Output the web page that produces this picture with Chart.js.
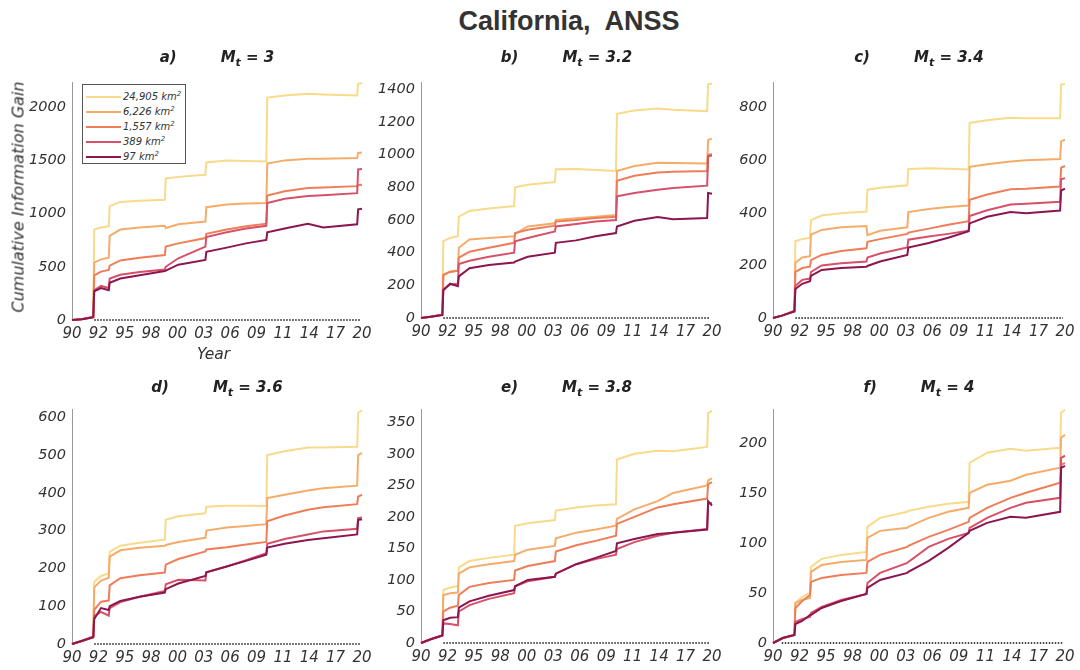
<!DOCTYPE html>
<html>
<head>
<meta charset="utf-8">
<script src="https://cdn.jsdelivr.net/npm/chart.js@4.4.1/dist/chart.umd.min.js"></script>
<style>
  body { margin: 0; background: #fff; }
  #wrap { position: relative; width: 1080px; height: 670px; overflow: hidden;
          font-family: "DejaVu Sans", Verdana, sans-serif; color: #333; }
  canvas { position: absolute; }
  .title { position: absolute; left: 369px; width: 400px; top: 6px; text-align: center;
           font: bold 27px "Liberation Sans", Arial, sans-serif; color: #333; }
  .ptitle { position: absolute; text-align: center; font-weight: bold; font-style: italic;
            font-size: 15px; line-height: 20px; white-space: pre; color: #222; }
  .ptitle sub { font-size: 11px; vertical-align: -4px; }
  .gap { display: inline-block; width: 44px; }
  .axlab { position: absolute; font-style: italic; color: #333; white-space: nowrap; }
  .legend { position: absolute; left: 82px; top: 84px; width: 102px; height: 76px;
            border: 1px solid #555; background: #fff; padding-top: 2px; }
  .legend div { height: 15px; line-height: 15px; font-size: 10px; font-style: italic; color: #333; }
  .legend span.ln { display: inline-block; width: 35px; height: 2px; margin: 0 2px 0 3px;
                    vertical-align: middle; }
  .legend sup { font-size: 7px; }
</style>
</head>
<body>
<div id="wrap"></div>
<script>
// ---- données ----
const AREAS = ['24,905', '6,226', '1,557', '389', '97'];
const LINE_COLORS = ['#F8DA8B', '#F5AC6B', '#EF7D58', '#D65068', '#8C1650'];

const YEARS = [1990, 1991, 1992.2, 1992.3, 1993, 1993.8, 1993.9, 1995, 1997, 1999.6, 1999.7, 2001,
               2003.8, 2003.9, 2006, 2008, 2010.1, 2010.2, 2012, 2014.4, 2016, 2019.5, 2019.6, 2020];

const XTICK_POS = [1990, 1992.73, 1995.45, 1998.18, 2000.91, 2003.64, 2006.36, 2009.09,
                   2011.82, 2014.55, 2017.27, 2020];
const XTICK_LABELS = ['90', '92', '95', '98', '00', '03', '06', '09', '11', '14', '17', '20'];

const PANEL_LETTERS = ['a)', 'b)', 'c)', 'd)', 'e)', 'f)'];
const MT_VALUES = ['3', '3.2', '3.4', '3.6', '3.8', '4'];
const Y_MAX = [2230, 1440, 895, 620, 370, 233];
const Y_STEP = [500, 200, 200, 100, 50, 50];
const BASE_START = [1992.3, 1992.3, 1992.3, 1992.3, 1992.3, 1990.9];
const BASE_END = 2019.8;

// rows: 24,905 / 6,226 / 1,557 / 389 / 97 km2
const GAIN_MT30 = [
  [0, 8, 28, 850, 870, 880, 1070, 1110, 1120, 1130, 1330, 1345, 1365, 1480, 1500, 1495, 1490, 2090, 2110, 2125, 2120, 2110, 2220, 2228],
  [0, 8, 28, 540, 570, 585, 790, 850, 870, 885, 865, 900, 925, 1060, 1085, 1095, 1100, 1470, 1500, 1515, 1515, 1522, 1570, 1575],
  [0, 8, 28, 420, 455, 470, 510, 560, 585, 610, 690, 720, 770, 810, 850, 880, 905, 1170, 1210, 1240, 1245, 1258, 1268, 1270],
  [0, 8, 28, 280, 320, 300, 390, 425, 450, 475, 500, 580, 690, 780, 825, 860, 885, 1100, 1140, 1165, 1172, 1192, 1415, 1420],
  [0, 8, 25, 270, 300, 280, 350, 390, 420, 460, 465, 520, 565, 640, 680, 720, 752, 825, 860, 905, 870, 900, 1040, 1045]
];
const GAIN_MT32 = [
  [0, 8, 20, 470, 490, 500, 620, 655, 670, 685, 800, 815, 832, 910, 912, 905, 900, 1250, 1270, 1282, 1275, 1265, 1430, 1435],
  [0, 8, 20, 265, 285, 290, 430, 480, 490, 500, 515, 560, 580, 600, 610, 620, 630, 900, 930, 950, 948, 945, 1090, 1098],
  [0, 8, 20, 262, 282, 288, 370, 405, 430, 460, 520, 540, 565, 590, 600, 612, 620, 840, 870, 890, 895, 900, 1000, 1002],
  [0, 8, 20, 175, 205, 210, 330, 350, 375, 400, 470, 490, 530, 560, 575, 590, 600, 745, 765, 785, 795, 810, 990, 995],
  [0, 8, 18, 170, 210, 195, 255, 305, 325, 340, 345, 375, 400, 460, 475, 500, 520, 560, 595, 618, 605, 612, 765, 760]
];
const GAIN_MT34 = [
  [0, 10, 28, 293, 300, 305, 372, 390, 398, 405, 488, 495, 505, 567, 570, 568, 565, 742, 752, 762, 760, 760, 888, 890],
  [0, 10, 28, 210, 230, 235, 317, 335, 345, 350, 315, 332, 345, 403, 415, 422, 428, 575, 585, 595, 600, 605, 672, 678],
  [0, 10, 28, 175, 190, 195, 220, 240, 255, 265, 290, 300, 320, 325, 340, 355, 368, 450, 470, 490, 492, 500, 572, 578],
  [0, 10, 26, 122, 145, 150, 175, 200, 208, 215, 230, 245, 268, 298, 310, 320, 332, 388, 410, 432, 435, 442, 528, 532],
  [0, 10, 25, 110, 130, 140, 160, 183, 190, 195, 198, 215, 240, 268, 285, 305, 330, 360, 385, 403, 398, 409, 485, 492]
];
const GAIN_MT36 = [
  [0, 8, 20, 165, 180, 187, 244, 260, 268, 276, 329, 338, 346, 363, 366, 366, 365, 500, 510, 520, 520, 522, 612, 618],
  [0, 8, 20, 150, 168, 175, 231, 248, 255, 260, 262, 270, 281, 300, 308, 312, 317, 386, 395, 406, 412, 419, 500, 506],
  [0, 8, 20, 90, 112, 115, 155, 174, 182, 189, 210, 225, 245, 250, 256, 263, 270, 325, 340, 355, 362, 370, 390, 395],
  [0, 8, 18, 74, 85, 75, 95, 111, 125, 140, 158, 170, 168, 190, 205, 222, 240, 265, 278, 290, 298, 305, 333, 335],
  [0, 8, 18, 66, 95, 90, 100, 114, 125, 136, 145, 160, 180, 190, 205, 220, 236, 255, 265, 275, 280, 290, 328, 330]
];
const GAIN_MT38 = [
  [0, 6, 12, 84, 88, 90, 120, 130, 135, 140, 186, 190, 195, 210, 215, 218, 220, 291, 300, 305, 304, 311, 365, 368],
  [0, 6, 12, 76, 79, 80, 110, 120, 125, 130, 140, 148, 154, 166, 175, 180, 186, 197, 212, 225, 238, 250, 258, 261],
  [0, 6, 12, 50, 56, 59, 76, 89, 95, 100, 115, 122, 130, 145, 155, 162, 170, 189, 200, 215, 220, 229, 252, 255],
  [0, 6, 12, 31, 30, 28, 50, 60, 70, 79, 90, 98, 105, 110, 125, 133, 140, 149, 160, 170, 175, 181, 221, 222],
  [0, 6, 12, 36, 40, 41, 56, 66, 75, 84, 90, 100, 105, 110, 125, 135, 146, 158, 165, 173, 175, 180, 225, 218]
];
const GAIN_MT40 = [
  [0, 5, 8, 40, 46, 50, 76, 84, 88, 91, 116, 125, 131, 132, 136, 139, 141, 180, 190, 194, 192, 195, 230, 233],
  [0, 5, 8, 40, 43, 45, 71, 78, 81, 83, 105, 112, 115, 116, 125, 131, 135, 150, 158, 162, 168, 175, 205, 208],
  [0, 5, 8, 35, 42, 48, 61, 65, 68, 70, 81, 88, 96, 97, 106, 113, 121, 125, 135, 145, 150, 160, 178, 180],
  [0, 5, 8, 21, 24, 26, 30, 36, 43, 49, 60, 70, 80, 81, 96, 104, 110, 115, 125, 135, 140, 145, 185, 187],
  [0, 5, 8, 19, 22, 28, 28, 35, 42, 49, 55, 63, 70, 71, 82, 95, 110, 112, 120, 126, 125, 131, 175, 177]
];
const PANEL_DATA = [GAIN_MT30, GAIN_MT32, GAIN_MT34, GAIN_MT36, GAIN_MT38, GAIN_MT40];

// ---- mise en page (zones de tracé en pixels) ----
const BOXES = [
  { l: 72,  t: 74,  w: 290, h: 246 },
  { l: 421, t: 74,  w: 291, h: 244 },
  { l: 773, t: 74,  w: 292, h: 244 },
  { l: 72,  t: 401, w: 290, h: 243 },
  { l: 421, t: 401, w: 291, h: 242 },
  { l: 773, t: 401, w: 292, h: 242 },
];
const YAXIS_W = 60, XAXIS_H = 34, PAD_T = 6, PAD_R = 16;
const TICK_FONT = { family: 'DejaVu Sans', size: 14.5, style: 'italic' };

const wrap = document.getElementById('wrap');

function addDiv(cls, html, style) {
  const d = document.createElement('div');
  d.className = cls;
  d.innerHTML = html;
  Object.assign(d.style, style);
  wrap.appendChild(d);
  return d;
}

addDiv('title', 'California,&nbsp; ANSS', {});

function renderPanel(p) {
  const b = BOXES[p];
  const cv = document.createElement('canvas');
  const cw = b.w + YAXIS_W + PAD_R, ch = b.h + PAD_T + XAXIS_H;
  cv.width = cw; cv.height = ch;
  Object.assign(cv.style, { left: (b.l - YAXIS_W) + 'px', top: (b.t - PAD_T) + 'px',
                            width: cw + 'px', height: ch + 'px' });
  wrap.appendChild(cv);

  const datasets = PANEL_DATA[p].map((vals, i) => ({
    label: AREAS[i] + ' km²',
    data: YEARS.map((yr, k) => ({ x: yr, y: vals[k] })),
    borderColor: LINE_COLORS[i],
    borderWidth: 2,
    pointRadius: 0,
    fill: false,
    tension: 0,
    clip: false,
    order: 4 - i,
  }));
  datasets.push({
    label: 'base',
    data: [{ x: BASE_START[p], y: 0 }, { x: BASE_END, y: 0 }],
    borderColor: '#111',
    borderWidth: 1.6,
    borderDash: [1.5, 1.5],
    pointRadius: 0,
    clip: false,
    order: 10,
  });

  new Chart(cv, {
    type: 'line',
    data: { datasets },
    options: {
      responsive: false,
      animation: false,
      layout: { padding: { top: PAD_T, right: PAD_R, left: 0, bottom: 0 } },
      plugins: { legend: { display: false }, tooltip: { enabled: false } },
      scales: {
        x: {
          type: 'linear', min: 1990, max: 2020,
          grid: { display: false, drawTicks: false },
          border: { display: false },
          afterBuildTicks: s => { s.ticks = XTICK_POS.map(v => ({ value: v })); },
          afterFit: s => { s.height = XAXIS_H; },
          ticks: { autoSkip: false, maxRotation: 0, padding: 5, color: '#333',
                   font: { family: 'DejaVu Sans', size: 15, style: 'italic' },
                   callback: (v, i) => XTICK_LABELS[i] },
        },
        y: {
          min: 0, max: Y_MAX[p],
          grid: { display: false, drawTicks: false },
          border: { display: true, color: '#999', width: 1 },
          afterBuildTicks: s => {
            const t = [];
            for (let v = 0; v <= Y_MAX[p]; v += Y_STEP[p]) t.push({ value: v });
            s.ticks = t;
          },
          afterFit: s => { s.width = YAXIS_W; },
          ticks: { autoSkip: false, padding: 6, color: '#333', font: TICK_FONT,
                   callback: v => String(v) },
        },
      },
    },
  });

  addDiv('ptitle',
    PANEL_LETTERS[p] + '<span class="gap"></span>M<sub>t</sub> = ' + MT_VALUES[p],
    { left: b.l + 'px', width: b.w + 'px', top: (p < 3 ? 47 : 377) + 'px' });
}

for (let p = 0; p < 6; p++) renderPanel(p);

// titres d'axes (panneau a seulement)
addDiv('axlab', 'Year', { left: '197px', top: '345px', fontSize: '15.5px' });
addDiv('axlab', 'Cumulative Information Gain',
  { left: '18px', top: '197px', fontSize: '16px', transform: 'translate(-50%,-50%) rotate(-90deg)' });

// légende
const leg = addDiv('legend', '', {});
AREAS.forEach((a, i) => {
  leg.innerHTML += '<div><span class="ln" style="background:' + LINE_COLORS[i] + '"></span>' +
    a + ' km<sup>2</sup></div>';
});
</script>
</body>
</html>
